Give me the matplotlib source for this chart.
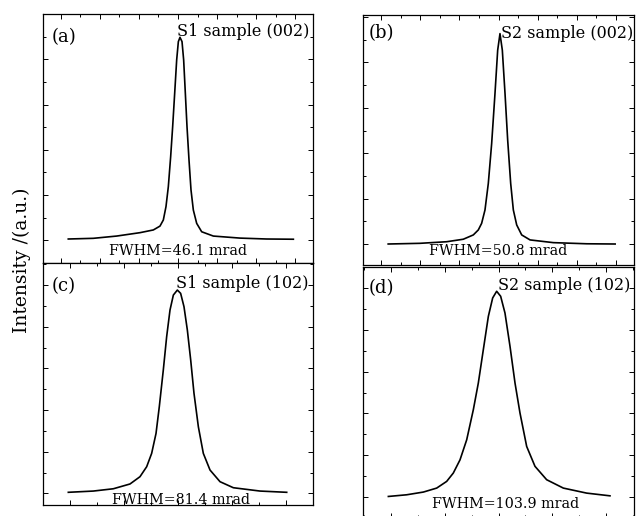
import matplotlib
matplotlib.use("Agg")
import matplotlib.pyplot as plt
from matplotlib.ticker import MultipleLocator

plt.rcParams['font.family'] = ['DejaVu Serif']

# rocking curves: angle offset (mrad), normalised intensity
s1_002_x = [-281.2, -217.1, -157.3, -97.4, -63.2, -46.2, -37.6, -30.8, -24.8, -18.8,
            -13.7, -8.5, -3.4, 0.9, 5.1, 10.3, 14.5, 18.8, 23.1, 28.2,
            33.3, 39.3, 47.9, 60.7, 90.6, 159.0, 227.3, 295.7]
s1_002_y = [0.006, 0.009, 0.019, 0.034, 0.046, 0.063, 0.090, 0.149, 0.237, 0.370,
            0.502, 0.650, 0.797, 0.878, 0.897, 0.878, 0.797, 0.650, 0.502, 0.355,
            0.223, 0.134, 0.075, 0.038, 0.019, 0.010, 0.006, 0.005]

s2_002_x = [-282.5, -201.3, -132.9, -90.2, -64.5, -51.7, -43.2, -34.6, -26.1, -17.5,
            -9.0, -2.1, 3.8, 9.8, 16.7, 23.5, 31.2, 38.0, 46.6, 59.4,
            80.8, 140.6, 226.1, 298.7]
s2_002_y = [0.000, 0.003, 0.010, 0.021, 0.040, 0.062, 0.091, 0.150, 0.267, 0.443,
            0.663, 0.854, 0.927, 0.854, 0.663, 0.458, 0.267, 0.150, 0.084, 0.040,
            0.018, 0.006, 0.001, 0.000]

s1_102_x = [-203.1, -156.8, -119.8, -88.9, -70.4, -58.0, -48.8, -40.7, -34.6, -27.2,
            -21.0, -14.8, -8.6, -1.2, 4.9, 11.1, 17.3, 23.5, 29.6, 37.7,
            46.9, 59.3, 77.8, 102.5, 151.9, 201.3]
s1_102_y = [0.005, 0.011, 0.022, 0.045, 0.080, 0.128, 0.192, 0.288, 0.417, 0.593,
            0.753, 0.881, 0.953, 0.977, 0.961, 0.897, 0.785, 0.641, 0.481, 0.320,
            0.192, 0.112, 0.056, 0.027, 0.011, 0.005]

s2_102_x = [-204.0, -170.1, -139.2, -114.5, -96.0, -83.7, -71.3, -58.9, -46.6, -37.4,
            -28.1, -18.8, -10.8, -3.4, 4.0, 12.0, 21.3, 30.6, 39.8, 52.2,
            67.6, 89.2, 120.1, 163.3, 206.5]
s2_102_y = [0.003, 0.011, 0.024, 0.043, 0.075, 0.115, 0.178, 0.274, 0.418, 0.545,
            0.705, 0.864, 0.952, 0.984, 0.960, 0.880, 0.721, 0.545, 0.402, 0.242,
            0.147, 0.083, 0.043, 0.019, 0.006]

panel_tags = ['(a)', '(b)', '(c)', '(d)']
sample_names = ['S1 sample (002)', 'S2 sample (002)', 'S1 sample (102)', 'S2 sample (102)']
fwhm_labels = ['FWHM=46.1 mrad', 'FWHM=50.8 mrad', 'FWHM=81.4 mrad', 'FWHM=103.9 mrad']

W, H = 644, 516


def px_box(x0, y0, x1, y1):
    # pixel box (top-left origin) -> figure fraction rect
    return [x0 / W, 1 - y1 / H, (x1 - x0) / W, (y1 - y0) / H]


def fig_pt(x, y):
    return x / W, 1 - y / H


fig = plt.figure(figsize=(6.44, 5.16), dpi=100)

panels = [
    # box, xlim, ylim, data, tag pos, name pos (right edge), fwhm pos
    ((43, 14, 313, 263), 346, (-0.1, 1.0), (s1_002_x, s1_002_y), (52, 37), (309, 31), (178, 251)),
    ((363, 15, 634, 265), 347, (-0.0925, 1.009), (s2_002_x, s2_002_y), (369, 33), (633, 33), (498, 251)),
    ((43, 263, 313, 505), 250, (-0.056, 1.107), (s1_102_x, s1_102_y), (52, 286), (309, 284), (181, 500)),
    ((363, 267, 634, 518), 251, (-0.1, 1.1), (s2_102_x, s2_102_y), (369, 288), (630, 286), (506, 504)),
]

for i, (box, xl, yl, (xs, ys), tag_xy, name_xy, fwhm_xy) in enumerate(panels):
    ax = fig.add_axes(px_box(*box))
    ax.plot(xs, ys, color='black', lw=1.2, solid_joinstyle='round')
    ax.set_xlim(-xl, xl)
    ax.set_ylim(*yl)
    ax.xaxis.set_major_locator(MultipleLocator(100))
    ax.xaxis.set_minor_locator(MultipleLocator(50))
    ax.yaxis.set_major_locator(MultipleLocator(0.2))
    ax.yaxis.set_minor_locator(MultipleLocator(0.1))
    ax.tick_params(which='both', direction='in', top=True, right=True,
                   labelbottom=False, labelleft=False, width=0.7, color='black')
    ax.tick_params(which='major', length=3.5)
    ax.tick_params(which='minor', length=2)
    for sp in ax.spines.values():
        sp.set_linewidth(0.9)
        sp.set_color('black')

    fig.text(*fig_pt(*tag_xy), panel_tags[i], ha='left', va='center', fontsize=13)
    fig.text(*fig_pt(*name_xy), sample_names[i], ha='right', va='center', fontsize=11.5)
    fig.text(*fig_pt(*fwhm_xy), fwhm_labels[i], ha='center', va='center', fontsize=10.3)

fig.text(*fig_pt(22, 260), 'Intensity /(a.u.)', rotation=90, ha='center', va='center', fontsize=13.5)

fig.savefig('out.png', dpi=100)
